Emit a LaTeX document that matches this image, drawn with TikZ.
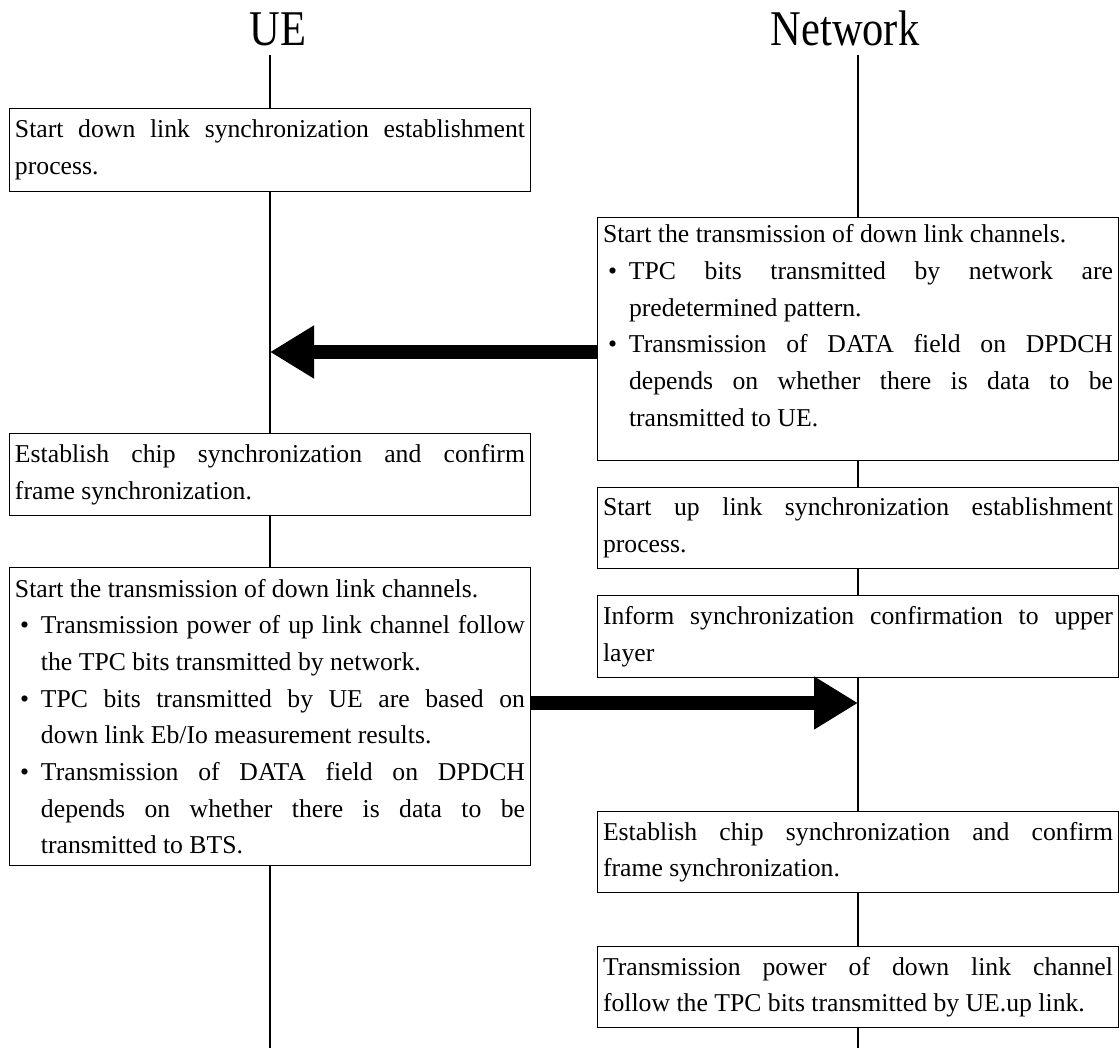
\documentclass[tikz,border=0pt]{standalone}
\usepackage{fontspec}
\setmainfont{Liberation Serif}
\newfontfamily\titlefont[FakeStretch=0.85]{Liberation Serif}
\usetikzlibrary{arrows.meta}
\setlength{\parindent}{0pt}
\tolerance=10000
\hbadness=10000
\hyphenpenalty=10000
\newcommand{\bitem}{\par\hangindent=13pt\hangafter=1\noindent\makebox[13pt][l]{\hspace{2.5pt}\textbullet}}

\begin{document}
\begin{tikzpicture}[x=0.5pt,y=-0.5pt]
    % Define styles
    \tikzstyle{party} = [font=\titlefont\fontsize{25}{30}\selectfont, anchor=base, inner sep=0pt]
    \tikzstyle{procbox} = [draw, line width=0.65pt, fill=white, anchor=north, text width=255pt, align=justify, inner xsep=2.75pt, inner ysep=0pt, minimum height=41pt, font=\fontsize{12.85}{18.35}\selectfont]
    \tikzstyle{lifeline} = [line width=0.7pt]
    \tikzstyle{msgarrow} = [line width=7pt, -{Triangle[length=22pt,width=25pt]}]

    \useasboundingbox (0,0) rectangle (1120,1048);

    % Parties and lifeline ends
    \node (ue) [party] at (278,46) {UE};
    \node (net) [party] at (845,46) {Network};
    \coordinate (uetop) at (270,55);
    \coordinate (uebot) at (270,1048);
    \coordinate (nettop) at (858,55);
    \coordinate (netbot) at (858,1048);

    % UE side
    \node (u1) [procbox, minimum height=41.5pt] at (270,108) {Start down link synchronization establishment\linebreak process.};
    \node (u2) [procbox] at (270,433) {Establish chip synchronization and confirm\linebreak frame synchronization.};
    \node (u3) [procbox, minimum height=149pt] at (270,567) {Start the transmission of down link channels.
        \bitem Transmission power of up link channel follow\linebreak the TPC bits transmitted by network.
        \bitem TPC bits transmitted by UE are based on\linebreak down link Eb/Io measurement results.
        \bitem Transmission of DATA field on DPDCH\linebreak depends on whether there is data to be\linebreak transmitted to BTS.\par};

    % Network side
    \node (n1) [procbox, minimum height=121.5pt] at (858,217) {Start the transmission of down link channels.
        \bitem TPC bits transmitted by network are\linebreak predetermined pattern.
        \bitem Transmission of DATA field on DPDCH\linebreak depends on whether there is data to be\linebreak transmitted to UE.\rule[-13.6pt]{0pt}{13.6pt}\par};
    \node (n2) [procbox, minimum height=40.5pt] at (858,487) {Start up link synchronization establishment\linebreak process.};
    \node (n3) [procbox] at (858,595) {Inform synchronization confirmation to upper\linebreak layer};
    \node (n4) [procbox, minimum height=40.5pt] at (858,811) {Establish chip synchronization and confirm\linebreak frame synchronization.};
    \node (n5) [procbox, minimum height=40.5pt] at (858,946) {Transmission power of down link channel\linebreak follow the TPC bits transmitted by UE.up link.};

    % Draw lifelines
    \draw [lifeline] (uetop) -- (u1.north);
    \draw [lifeline] (u1.south) -- (u2.north);
    \draw [lifeline] (u2.south) -- (u3.north);
    \draw [lifeline] (u3.south) -- (uebot);
    \draw [lifeline] (nettop) -- (n1.north);
    \draw [lifeline] (n1.south) -- (n2.north);
    \draw [lifeline] (n2.south) -- (n3.north);
    \draw [lifeline] (n3.south) -- (n4.north);
    \draw [lifeline] (n4.south) -- (n5.north);
    \draw [lifeline] (n5.south) -- (netbot);

    % Draw messages
    \coordinate (dlhit) at (270,352);
    \coordinate (ulhit) at (858,703);
    \draw [msgarrow] (n1.west |- dlhit) -- (dlhit);
    \draw [msgarrow] (u3.east |- ulhit) -- (ulhit);
\end{tikzpicture}
\end{document}
